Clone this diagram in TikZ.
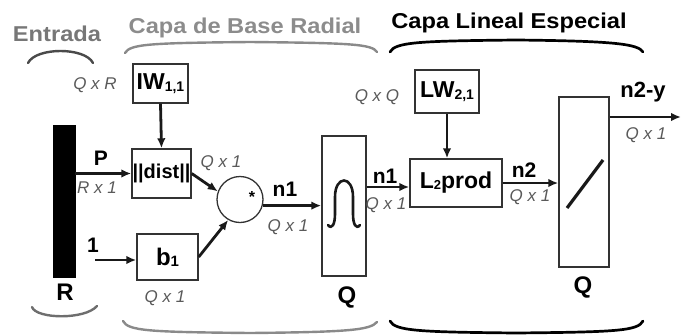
\documentclass[tikz,border=0pt]{standalone}
\usepackage{fontspec}
\setmainfont{Liberation Sans}
\newfontfamily\headfont[FakeStretch=1.1]{Liberation Sans}
\usetikzlibrary{arrows.meta}
\definecolor{lbl}{HTML}{5A5A5A}
\definecolor{boxc}{HTML}{333333}
\definecolor{grayA}{HTML}{777777}
\definecolor{grayB}{HTML}{8C8C8C}
\definecolor{braceA}{HTML}{4A4A4A}
\definecolor{braceB}{HTML}{8A8A8A}
\begin{document}
\begin{tikzpicture}[x=1pt,y=-1pt,
  box/.style={draw=boxc, line width=1.4pt, inner sep=0pt},
  arr/.style={line width=2.8pt, -{Latex[length=10pt,width=8.5pt]}, black!90},
  dim/.style={font=\fontsize{17}{17}\selectfont\itshape, text=lbl, inner sep=0pt},
  sig/.style={font=\fontsize{21}{21}\selectfont\bfseries, inner sep=0pt},
  big/.style={font=\fontsize{24}{24}\selectfont\bfseries, inner sep=0pt},
  head/.style={font=\fontsize{21.5}{21.5}\headfont\bfseries, inner sep=0pt, anchor=base},
  brc/.style={line width=2.4pt, line cap=round}]
\useasboundingbox (0,0) rectangle (688,335);

% headings
\node[head, text=grayA] (hEnt) at (57,41) {Entrada};
\node[head, text=grayB] (hRad) at (245,33) {Capa de Base Radial};
\node[head, text=black] (hLin) at (509,28) {Capa Lineal Especial};

% braces
\draw[brc, draw=braceA] (28,63) .. controls (36,47) and (85,47) .. (93,63);
\draw[brc, draw=braceB] (125,53) .. controls (130,44) and (150,43) .. (250,42) .. controls (350,43) and (372,44) .. (377,52);
\draw[brc, draw=black, line width=2.7pt] (390,52) .. controls (395,42) and (420,41) .. (516,40) .. controls (615,41) and (638,44) .. (643,52);
\draw[brc, draw=braceA!80] (32,307) .. controls (36,319) and (85,320) .. (97,306);
\draw[brc, draw=braceB] (123,321) .. controls (128,331) and (150,332) .. (250,333) .. controls (350,332) and (370,330) .. (377,322);
\draw[brc, draw=black, line width=2.7pt] (390,321) .. controls (395,331) and (420,332) .. (516,333) .. controls (615,332) and (638,331) .. (643,321);

% input bar
\node[fill=black, draw=black, minimum width=22pt, minimum height=152pt, inner sep=0pt] (bar) at (64,201) {};
\node[big] (lR) at (65,292) {R};

% radial layer boxes
\node[box, minimum width=55pt, minimum height=39pt] (IW) at (160.5,83.5)
  {\fontsize{23}{23}\selectfont\bfseries IW\raisebox{-2pt}{\fontsize{14}{14}\selectfont 1,1}};
\node[box, minimum width=59pt, minimum height=49pt] (dist) at (161.5,173.5)
  {\fontsize{20}{20}\selectfont\bfseries ||dist||};
\node[box, minimum width=61pt, minimum height=46pt] (b1) at (167.5,257)
  {\fontsize{24}{24}\selectfont\bfseries b\raisebox{-1pt}{\fontsize{15}{15}\selectfont 1}};
\node[draw=boxc, line width=1.3pt, circle, minimum size=46pt, inner sep=0pt] (circ) at (240,199.5) {};
\node[inner sep=0pt, font=\fontsize{16}{16}\selectfont\bfseries] (star) at (252,197) {*};
\node[box, minimum width=44pt, minimum height=140pt] (rad) at (344,206) {};
\draw[line width=2.6pt, line cap=round, black!90] (328,225) .. controls (332,230) and (335,224) .. (335,214) -- (335,197) .. controls (335,175) and (353,175) .. (353,197) -- (353,214) .. controls (353,224) and (356,230) .. (360,225);
\node[big] (lQ1) at (347,297) {Q};

% linear layer boxes
\node[box, minimum width=64pt, minimum height=43pt] (LW) at (447,91.5)
  {\fontsize{23}{23}\selectfont\bfseries LW\raisebox{-2pt}{\fontsize{14}{14}\selectfont 2,1}};
\node[box, minimum width=92pt, minimum height=48pt] (L2) at (456,183)
  {\fontsize{23}{23}\selectfont\bfseries L\raisebox{-1pt}{\fontsize{13}{13}\selectfont 2}prod};
\node[box, minimum width=50pt, minimum height=170pt] (lin) at (584,182) {};
\draw[line width=3.2pt, black!90] (567,208) -- (603,160);
\node[big] (lQ2) at (583,287) {Q};

% connectors
\draw[arr] (bar.east |- dist.west) -- (dist.west);
\coordinate (one) at (95,260);
\draw[arr] (one) -- (one -| b1.west);
\draw[arr] (IW.south) -- (dist.north);
\draw[arr] (dist.east) -- (circ.160);
\draw[arr] (b1.east) -- (circ.240);
\draw[arr] (circ.-15) -- (circ.-15 -| rad.west);
\coordinate (l2in) at ([yshift=-4pt]L2.west);
\draw[arr] (l2in -| rad.east) -- (l2in);
\draw[arr] (LW.south) -- (LW.south |- L2.north);
\draw[arr] (L2.east) -- (L2.east -| lin.west);
\coordinate (out) at (681,117);
\draw[arr] (out -| lin.east) -- (out);

% labels
\node[dim] (dQR) at (95,85) {Q x R};
\node[sig] (lP) at (101,158) {P};
\node[dim] (dR1) at (97,188) {R x 1};
\node[dim] (dD1) at (221,163) {Q x 1};
\node[sig] (l1) at (93,245) {1};
\node[dim] (dB1) at (165,298) {Q x 1};
\node[sig] (ln1a) at (285,189) {n1};
\node[dim] (dN1a) at (288,227) {Q x 1};
\node[sig] (ln1b) at (385,176) {n1};
\node[dim] (dN1b) at (386,205) {Q x 1};
\node[dim] (dQQ) at (377,97) {Q x Q};
\node[sig] (ln2) at (524,170) {n2};
\node[dim] (dN2) at (530,197) {Q x 1};
\node[sig, font=\fontsize{22}{22}\selectfont\bfseries] (lny) at (643,92) {n2-y};
\node[dim] (dNy) at (646,135) {Q x 1};
\end{tikzpicture}
\end{document}
